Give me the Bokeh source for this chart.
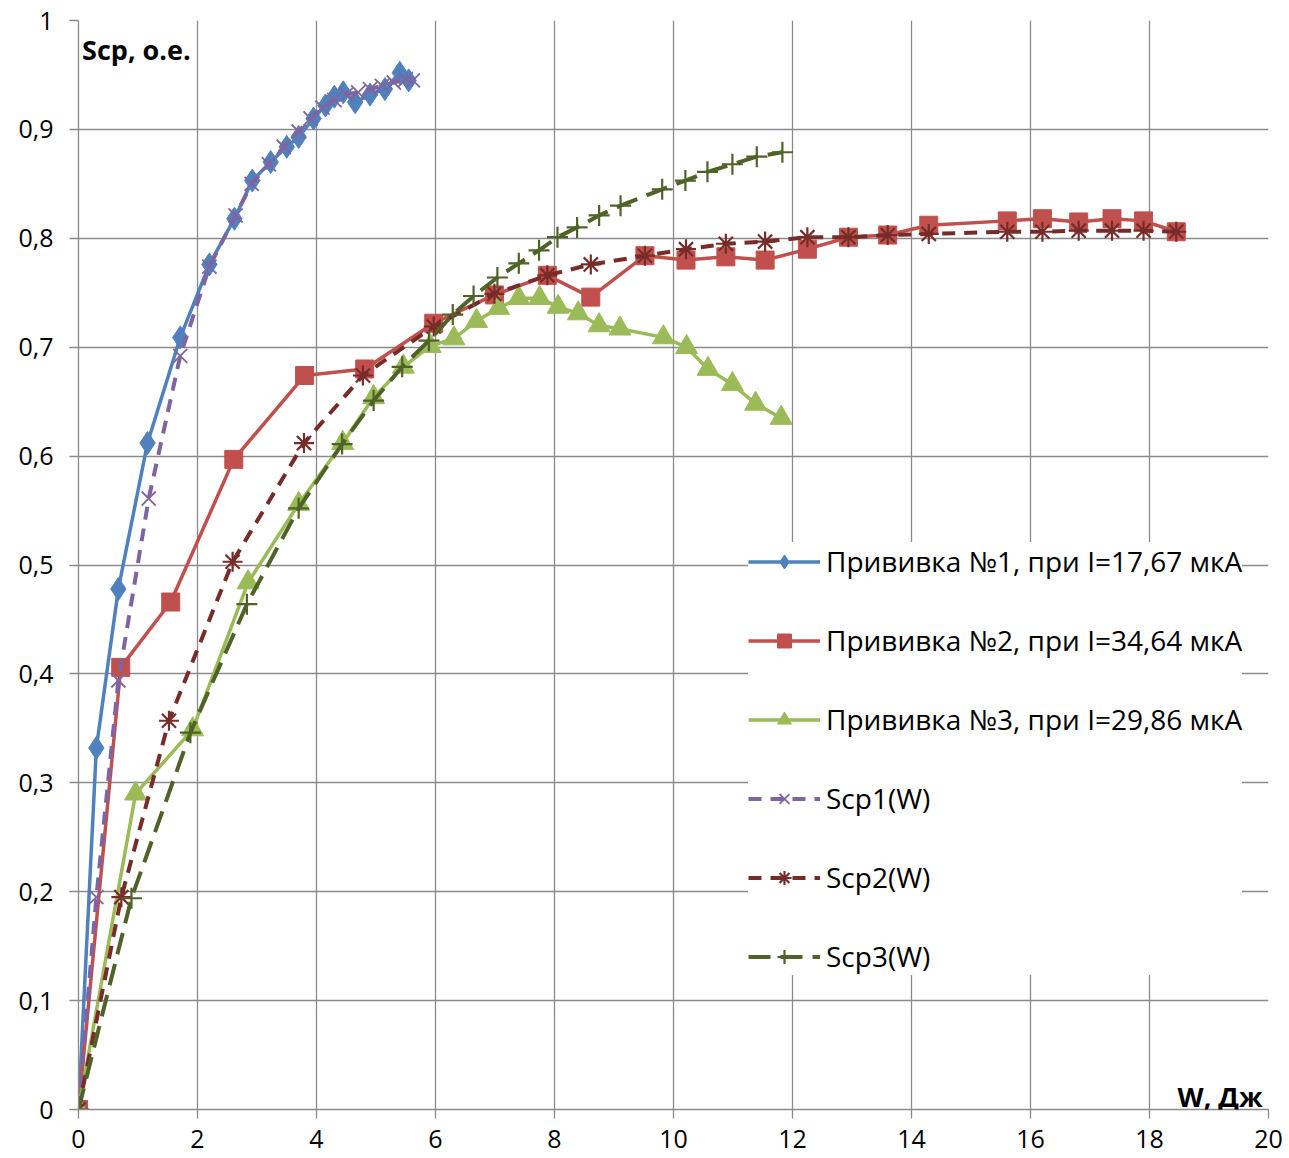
from bokeh.plotting import figure
from bokeh.models import Range1d, FixedTicker, Legend, LegendItem, Label
from bokeh.embed import file_html
from bokeh.resources import INLINE

# ---- data ----
w1 = [0, 0.30, 0.67, 1.16, 1.71, 2.20, 2.62, 2.92, 3.23, 3.50, 3.70, 3.95, 4.15, 4.30, 4.45, 4.65, 4.90, 5.15, 5.40, 5.55]
s1 = [0, 0.332, 0.478, 0.612, 0.709, 0.776, 0.818, 0.853, 0.870, 0.884, 0.893, 0.910, 0.922, 0.930, 0.934, 0.925, 0.932, 0.937, 0.952, 0.945]

w2 = [0, 0.71, 1.55, 2.61, 3.80, 4.81, 5.97, 6.99, 7.88, 8.61, 9.52, 10.21, 10.88, 11.54, 12.25, 12.94, 13.60, 14.29, 15.61, 16.20, 16.81, 17.37, 17.90, 18.45]
s2 = [0, 0.406, 0.466, 0.597, 0.674, 0.680, 0.722, 0.748, 0.766, 0.746, 0.784, 0.780, 0.783, 0.780, 0.790, 0.801, 0.803, 0.812, 0.816, 0.818, 0.815, 0.818, 0.816, 0.806]

w3 = [0, 0.96, 1.92, 2.85, 3.70, 4.44, 4.96, 5.46, 5.91, 6.31, 6.69, 7.06, 7.40, 7.75, 8.06, 8.40, 8.75, 9.10, 9.83, 10.22, 10.58, 10.99, 11.38, 11.81]
s3 = [0, 0.290, 0.349, 0.484, 0.556, 0.612, 0.654, 0.682, 0.701, 0.708, 0.724, 0.736, 0.745, 0.745, 0.737, 0.731, 0.720, 0.717, 0.709, 0.700, 0.680, 0.666, 0.648, 0.635]

wc1 = [0, 0.30, 0.67, 1.18, 1.71, 2.20, 2.64, 2.91, 3.20, 3.45, 3.70, 3.90, 4.10, 4.30, 4.50, 4.70, 4.90, 5.10, 5.30, 5.50, 5.62]
sc1 = [0, 0.195, 0.394, 0.561, 0.692, 0.774, 0.821, 0.850, 0.868, 0.884, 0.898, 0.910, 0.920, 0.927, 0.932, 0.934, 0.937, 0.940, 0.943, 0.946, 0.945]

wc2 = [0, 0.72, 1.52, 2.59, 3.79, 4.78, 5.97, 6.99, 7.88, 8.61, 9.52, 10.21, 10.88, 11.54, 12.25, 12.94, 13.60, 14.29, 15.61, 16.20, 16.81, 17.37, 17.90, 18.45]
sc2 = [0, 0.195, 0.357, 0.503, 0.612, 0.674, 0.719, 0.749, 0.766, 0.776, 0.784, 0.790, 0.795, 0.797, 0.801, 0.801, 0.803, 0.804, 0.806, 0.806, 0.807, 0.807, 0.807, 0.806]

wc3 = [0, 0.89, 1.88, 2.83, 3.70, 4.43, 4.96, 5.44, 5.89, 6.29, 6.64, 7.04, 7.40, 7.74, 8.05, 8.38, 8.75, 9.11, 9.81, 10.20, 10.57, 10.99, 11.40, 11.83]
sc3 = [0, 0.194, 0.346, 0.464, 0.552, 0.611, 0.651, 0.682, 0.706, 0.730, 0.747, 0.764, 0.777, 0.789, 0.801, 0.810, 0.821, 0.830, 0.845, 0.853, 0.861, 0.868, 0.875, 0.879]

labels = ["Прививка №1, при I=17,67 мкА", "Прививка №2, при I=34,64 мкА",
          "Прививка №3, при I=29,86 мкА", "Scp1(W)", "Scp2(W)", "Scp3(W)"]

x_ticks = [0, 2, 4, 6, 8, 10, 12, 14, 16, 18, 20]
y_ticks = [0, 0.1, 0.2, 0.3, 0.4, 0.5, 0.6, 0.7, 0.8, 0.9, 1.0]
y_tick_labels = ["0", "0,1", "0,2", "0,3", "0,4", "0,5", "0,6", "0,7", "0,8", "0,9", "1"]

FONT = "Open Sans"
GRID = "#8a8a8a"

p = figure(width=1289, height=1158, output_backend="svg", toolbar_location=None,
           x_range=Range1d(0, 20), y_range=Range1d(0, 1),
           min_border_left=78, min_border_right=21, min_border_top=20, min_border_bottom=49)
p.outline_line_color = None
p.background_fill_color = "white"
p.border_fill_color = "white"

for ax in (p.xaxis[0], p.yaxis[0]):
    ax.axis_line_color = GRID
    ax.axis_line_width = 1.3
    ax.major_tick_line_color = GRID
    ax.major_tick_line_width = 1.3
    ax.major_tick_in = 0
    ax.major_tick_out = 9
    ax.minor_tick_line_color = None
    ax.major_label_text_font = FONT
    ax.major_label_text_font_size = "25px"
    ax.major_label_text_color = "black"

p.xaxis[0].ticker = FixedTicker(ticks=x_ticks)
p.yaxis[0].ticker = FixedTicker(ticks=y_ticks)
p.yaxis[0].major_label_overrides = {t: l for t, l in zip(y_ticks, y_tick_labels)}
p.xaxis[0].major_label_overrides = {t: str(t) for t in x_ticks}
p.yaxis[0].major_label_standoff = 16
p.xaxis[0].major_label_standoff = 11

p.xgrid.ticker = FixedTicker(ticks=x_ticks)
p.ygrid.ticker = FixedTicker(ticks=y_ticks)
p.grid.grid_line_color = GRID
p.grid.grid_line_width = 1.3

items = []

# measured series (solid)
l1 = p.line(w1, s1, line_color="#4F81BD", line_width=3.5)
m1 = p.scatter(w1, s1, marker="diamond", size=23, fill_color="#4F81BD", line_color="#4F81BD")
l2 = p.line(w2, s2, line_color="#C0504D", line_width=3.5)
m2 = p.scatter(w2, s2, marker="square", size=18, fill_color="#C0504D", line_color="#C0504D")
l3 = p.line(w3, s3, line_color="#9BBB59", line_width=3.5)
m3 = p.scatter(w3, s3, marker="triangle", size=22, fill_color="#9BBB59", line_color="#9BBB59")

# model curves (dashed)
l4 = p.line(wc1, sc1, line_color="#8064A2", line_width=4, line_dash="13 9")
m4 = p.scatter(wc1, sc1, marker="x", size=20, line_color="#8064A2", line_width=1.8)
l5 = p.line(wc2, sc2, line_color="#772C2A", line_width=4, line_dash="13 9")
m5 = p.scatter(wc2, sc2, marker="asterisk", size=20, line_color="#772C2A", line_width=2.2)
l6 = p.line(wc3, sc3, line_color="#4F6228", line_width=4, line_dash="22 10")
m6 = p.scatter(wc3, sc3, marker="cross", size=21, line_color="#4F6228", line_width=2.2)

for lab, rs in zip(labels, [[l1, m1], [l2, m2], [l3, m3], [l4, m4], [l5, m5], [l6, m6]]):
    items.append(LegendItem(label=lab, renderers=rs))

legend = Legend(items=items, location=(670, 134), orientation="vertical",
                background_fill_color="white", background_fill_alpha=1.0,
                border_line_color=None, padding=10, spacing=41,
                glyph_width=72, glyph_height=35, label_height=35,
                label_standoff=6, label_text_font=FONT, label_text_font_size="28px",
                label_text_color="black", margin=0)
p.add_layout(legend, "center")

p.add_layout(Label(x=0.06, y=0.99, text="Scp, o.e.", text_font=FONT, text_font_style="bold",
                   text_font_size="27px", text_baseline="top", text_color="black"))
p.add_layout(Label(x=19.9, y=0.012, text="W, Дж", text_font=FONT, text_font_style="bold",
                   text_font_size="27px", text_align="right", text_baseline="alphabetic",
                   text_color="black"))

open("out.html", "w").write(file_html(p, INLINE))
